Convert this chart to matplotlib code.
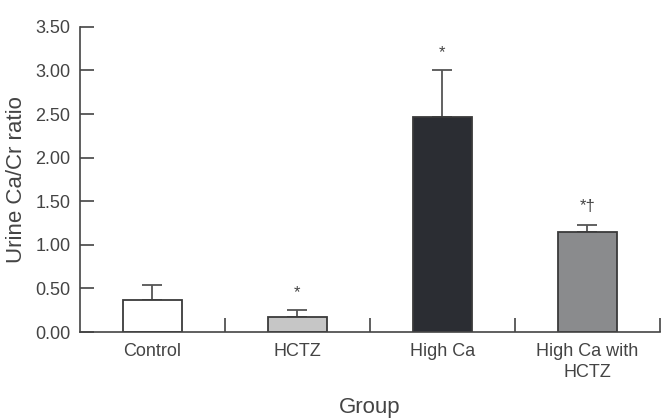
import matplotlib
matplotlib.use('Agg')
import matplotlib.pyplot as plt
import numpy as np

plt.rcParams['font.family'] = ['Liberation Sans Narrow', 'Liberation Sans', 'DejaVu Sans']

# 数据
groups = ["Control", "HCTZ", "High Ca", "High Ca with\nHCTZ"]
means = [0.37, 0.17, 2.47, 1.15]
sems = [0.17, 0.08, 0.53, 0.08]
marks = ["", "*", "*", "*\u2020"]
colors = ["#ffffff", "#c6c6c6", "#2b2d33", "#8a8b8d"]

fig = plt.figure(figsize=(6.64, 4.2), dpi=100)
ax = fig.add_axes([0.1205, 0.2095, 0.873, 0.7265])

x = np.arange(len(groups))
ax.bar(x, means, width=0.41, color=colors, edgecolor="#3a3a3a", linewidth=1.3, zorder=2)
ax.errorbar(x, means, yerr=[np.zeros(len(sems)), sems], fmt="none",
            ecolor="#555555", elinewidth=1.3, capsize=7, capthick=1.3, zorder=1)

# 显著性标记
for xi, m, s, t in zip(x, means, sems, marks):
    if t:
        ax.text(xi, m + s + 0.12, t, ha="center", va="bottom", fontsize=12, color="#444444")

ax.set_xlim(-0.5, 3.5)
ax.set_ylim(0, 3.5)
ax.set_yticks(np.arange(0, 3.51, 0.5))
ax.set_yticklabels([f"{v:.2f}" for v in np.arange(0, 3.51, 0.5)], fontsize=13, color="#444444")
ax.set_xticks([0.5, 1.5, 2.5, 3.5])
ax.set_xticklabels([])
ax.tick_params(axis="both", direction="in", length=10, width=1.2, color="#444444")
ax.tick_params(axis="y", pad=7)

for xi, g in zip(x, groups):
    ax.text(xi, -0.13, g, ha="center", va="top", fontsize=13, color="#444444",
            transform=ax.transData, linespacing=1.25)

ax.spines["top"].set_visible(False)
ax.spines["right"].set_visible(False)
for s in ["left", "bottom"]:
    ax.spines[s].set_color("#444444")
    ax.spines[s].set_linewidth(1.2)

ax.set_ylabel("Urine Ca/Cr ratio", fontsize=16, color="#444444", labelpad=6)
fig.text(0.557, 0.005, "Group", ha="center", va="bottom", fontsize=16, color="#444444")

fig.savefig("out.png", dpi=100)
